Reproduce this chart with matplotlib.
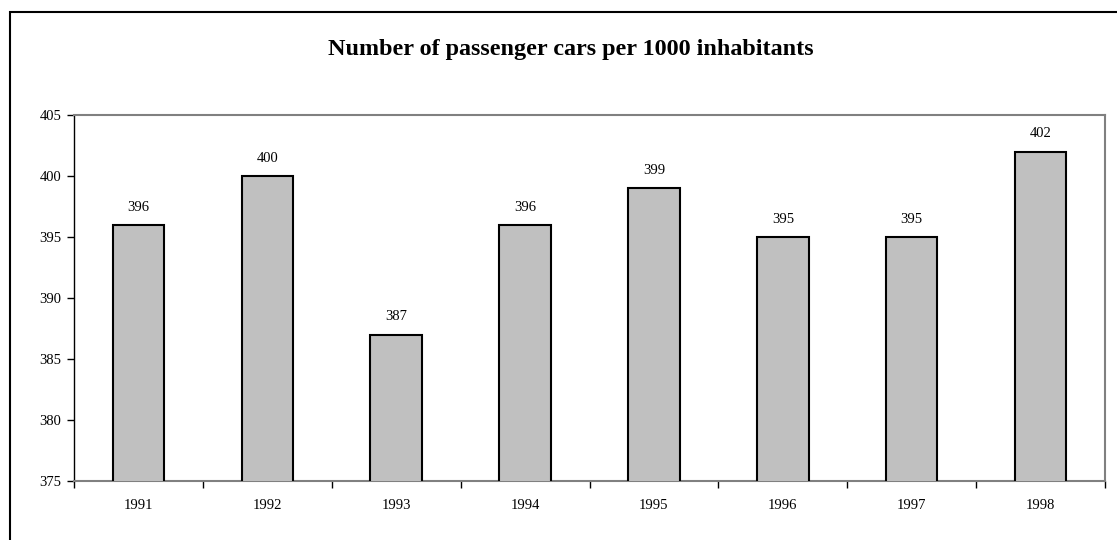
import numpy as np
import matplotlib
matplotlib.use('Agg')
import matplotlib.pyplot as plt
from matplotlib.patches import Rectangle

years = ['1991', '1992', '1993', '1994', '1995', '1996', '1997', '1998']
cars = [396, 400, 387, 396, 399, 395, 395, 402]

plt.rcParams['font.family'] = ['Liberation Serif', 'DejaVu Serif']

fig = plt.figure(figsize=(11.17, 5.40), dpi=100)
ax = fig.add_axes([74/1117, 1 - 481/540, (1105 - 74)/1117, (481 - 115)/540])

# outer frame (cut off at right and bottom like the reference)
fig.patches.append(Rectangle((10/1117, -0.05), 1.2, 1 - 12/540 + 0.05, transform=fig.transFigure,
                             fill=False, edgecolor='black', linewidth=1.5))

x = np.arange(len(years))
ax.bar(x, cars, width=0.40, bottom=0, color='#C0C0C0', edgecolor='black', linewidth=1.5, zorder=3)

for xi, v in zip(x, cars):
    ax.annotate(str(v), (xi, v), xytext=(0, 8), textcoords='offset points',
                ha='center', va='bottom', fontsize=10.5)

ax.set_ylim(375, 405)
ax.set_xlim(-0.5, len(years) - 0.5)
ax.set_yticks(np.arange(375, 406, 5))
ax.tick_params(axis='y', labelsize=10.5, length=5, width=1, direction='out', pad=4)

ax.set_xticks(x)
ax.set_xticklabels(years)
ax.set_xticks(np.arange(-0.5, len(years)), minor=True)
ax.tick_params(axis='x', which='major', length=0, labelsize=10.5, pad=13)
ax.tick_params(axis='x', which='minor', length=5, width=1, direction='out')

for s in ax.spines.values():
    s.set_color('#808080')
    s.set_linewidth(1.5)
ax.spines['left'].set_color('black')
ax.spines['left'].set_linewidth(1)

fig.text(571/1117, 1 - 50/540, 'Number of passenger cars per 1000 inhabitants',
         ha='center', va='center', fontsize=17.4, fontweight='bold')

plt.savefig('out.png', dpi=100)
plt.close()
